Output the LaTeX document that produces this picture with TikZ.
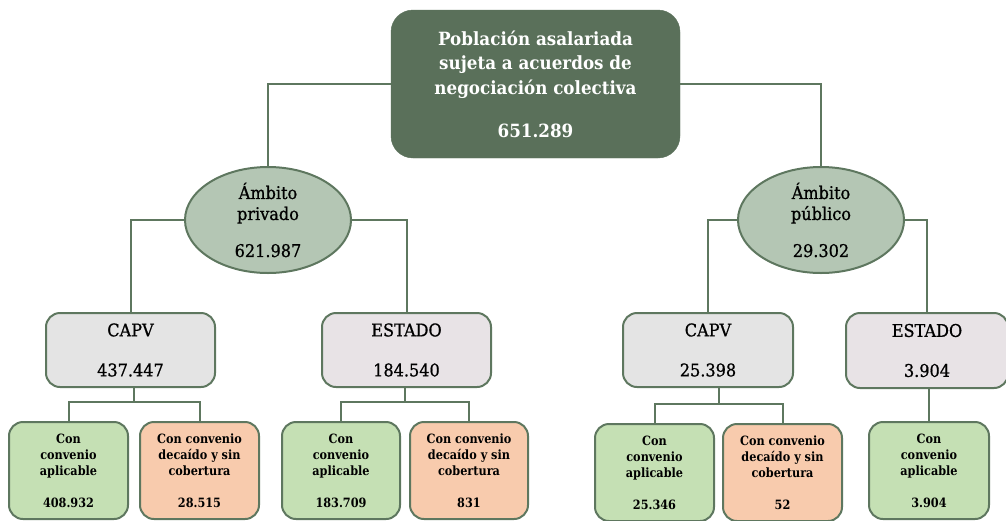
\documentclass[tikz,border=0pt]{standalone}
\usepackage{fontspec}
\setmainfont{DejaVu Serif}[FakeStretch=0.88]
\newfontfamily\topfont{DejaVu Serif Bold}[FakeStretch=0.92]
\newfontfamily\midfont{DejaVu Serif}[FakeStretch=0.92,FakeBold=0.8]
\usetikzlibrary{calc,shapes.geometric}
\definecolor{dkgreen}{HTML}{5A705A}
\definecolor{edgecol}{HTML}{5E775F}
\definecolor{ellfill}{HTML}{B4C6B4}
\definecolor{capvfill}{HTML}{E4E4E4}
\definecolor{estfill}{HTML}{E8E3E6}
\definecolor{okfill}{HTML}{C5E0B4}
\definecolor{kofill}{HTML}{F8CBAD}
\begin{document}
\begin{tikzpicture}[x=1pt,y=-1pt,
 conn/.style={draw=edgecol, line width=2pt},
 topbox/.style={rectangle, rounded corners=22pt, fill=dkgreen, draw=dkgreen, minimum width=289pt, minimum height=148pt, text=white, font=\topfont\fontsize{18.2}{24.5}\selectfont, align=center, inner sep=0pt},
 amb/.style={ellipse, draw=edgecol, line width=2pt, fill=ellfill, minimum width=166pt, minimum height=106pt, inner sep=0pt},
 ambtxt/.style={align=center, inner sep=0pt, font=\midfont\fontsize{17.5}{21}\selectfont},
 mid/.style={rectangle, rounded corners=14pt, draw=edgecol, line width=2pt, minimum height=74pt, inner sep=0pt, align=center, font=\midfont\fontsize{17.5}{20}\selectfont},
 leaf/.style={rectangle, rounded corners=14pt, draw=edgecol, line width=2pt, minimum width=119pt, minimum height=97pt, inner sep=0pt, align=center, font=\bfseries\fontsize{12.8}{16}\selectfont},
]
\useasboundingbox (0,0) rectangle (1006,520);
\clip (0,0) rectangle (1006,520);

% nodes
\node[topbox] (top) at (535.5,84) {Población asalariada\\sujeta a acuerdos de\\negociación colectiva\\[18.5pt]651.289};

\node[amb] (privado) at (268,220) {};
\node[ambtxt] (privadoT) at (privado) {Ámbito\\privado\\[16pt]621.987};
\node[amb] (publico) at (821,220) {};
\node[ambtxt] (publicoT) at (publico) {Ámbito\\público\\[16pt]29.302};

\node[mid, fill=capvfill, minimum width=169pt] (capv1) at (130.5,350) {CAPV\\[20pt]437.447};
\node[mid, fill=estfill, minimum width=169pt] (estado1) at (406.5,350) {ESTADO\\[20pt]184.540};
\node[mid, fill=capvfill, minimum width=170pt] (capv2) at (708,350) {CAPV\\[20pt]25.398};
\node[mid, fill=estfill, minimum width=162pt, minimum height=75pt] (estado2) at (927,350.5) {ESTADO\\[20pt]3.904};

\node[leaf, fill=okfill] (c1a) at (68.5,470.5) {Con\\convenio\\aplicable\\[16pt]408.932};
\node[leaf, fill=kofill] (c1b) at (199.5,470.5) {Con convenio\\decaído y sin\\cobertura\\[16pt]28.515};
\node[leaf, fill=okfill, minimum width=118pt] (c2a) at (341,470.5) {Con\\convenio\\aplicable\\[16pt]183.709};
\node[leaf, fill=kofill, minimum width=118pt] (c2b) at (469,470.5) {Con convenio\\decaído y sin\\cobertura\\[16pt]831};
\node[leaf, fill=okfill] (c3a) at (654.5,472.5) {Con\\convenio\\aplicable\\[16pt]25.346};
\node[leaf, fill=kofill] (c3b) at (782.5,472.5) {Con convenio\\decaído y sin\\cobertura\\[16pt]52};
\node[leaf, fill=okfill, minimum width=120pt] (c4a) at (929,470.5) {Con\\convenio\\aplicable\\[16pt]3.904};

% connectors
\draw[conn] (top.west) -| (privado.north);
\draw[conn] (top.east) -| (publico.north);
\draw[conn] (privado.west) -| (capv1.north);
\draw[conn] (privado.east) -| (estado1.north);
\draw[conn] (publico.west) -| (capv2.north);
\draw[conn] (publico.east) -| (estado2.north);

\path ($(c1a.north)!0.5!(c1b.north)$) ++(0,-19) coordinate (j1);
\draw[conn] (c1a.north) |- (j1) -| (c1b.north);
\draw[conn] (j1) -- (j1 |- capv1.south);
\path ($(c2a.north)!0.5!(c2b.north)$) ++(0,-19) coordinate (j2);
\draw[conn] (c2a.north) |- (j2) -| (c2b.north);
\draw[conn] (j2) -- (j2 |- estado1.south);
\path ($(c3a.north)!0.5!(c3b.north)$) ++(0,-19) coordinate (j3);
\draw[conn] (c3a.north) |- (j3) -| (c3b.north);
\draw[conn] (j3) -- (j3 |- capv2.south);
\draw[conn] (c4a.north |- estado2.south) -- (c4a.north);
\end{tikzpicture}
\end{document}
